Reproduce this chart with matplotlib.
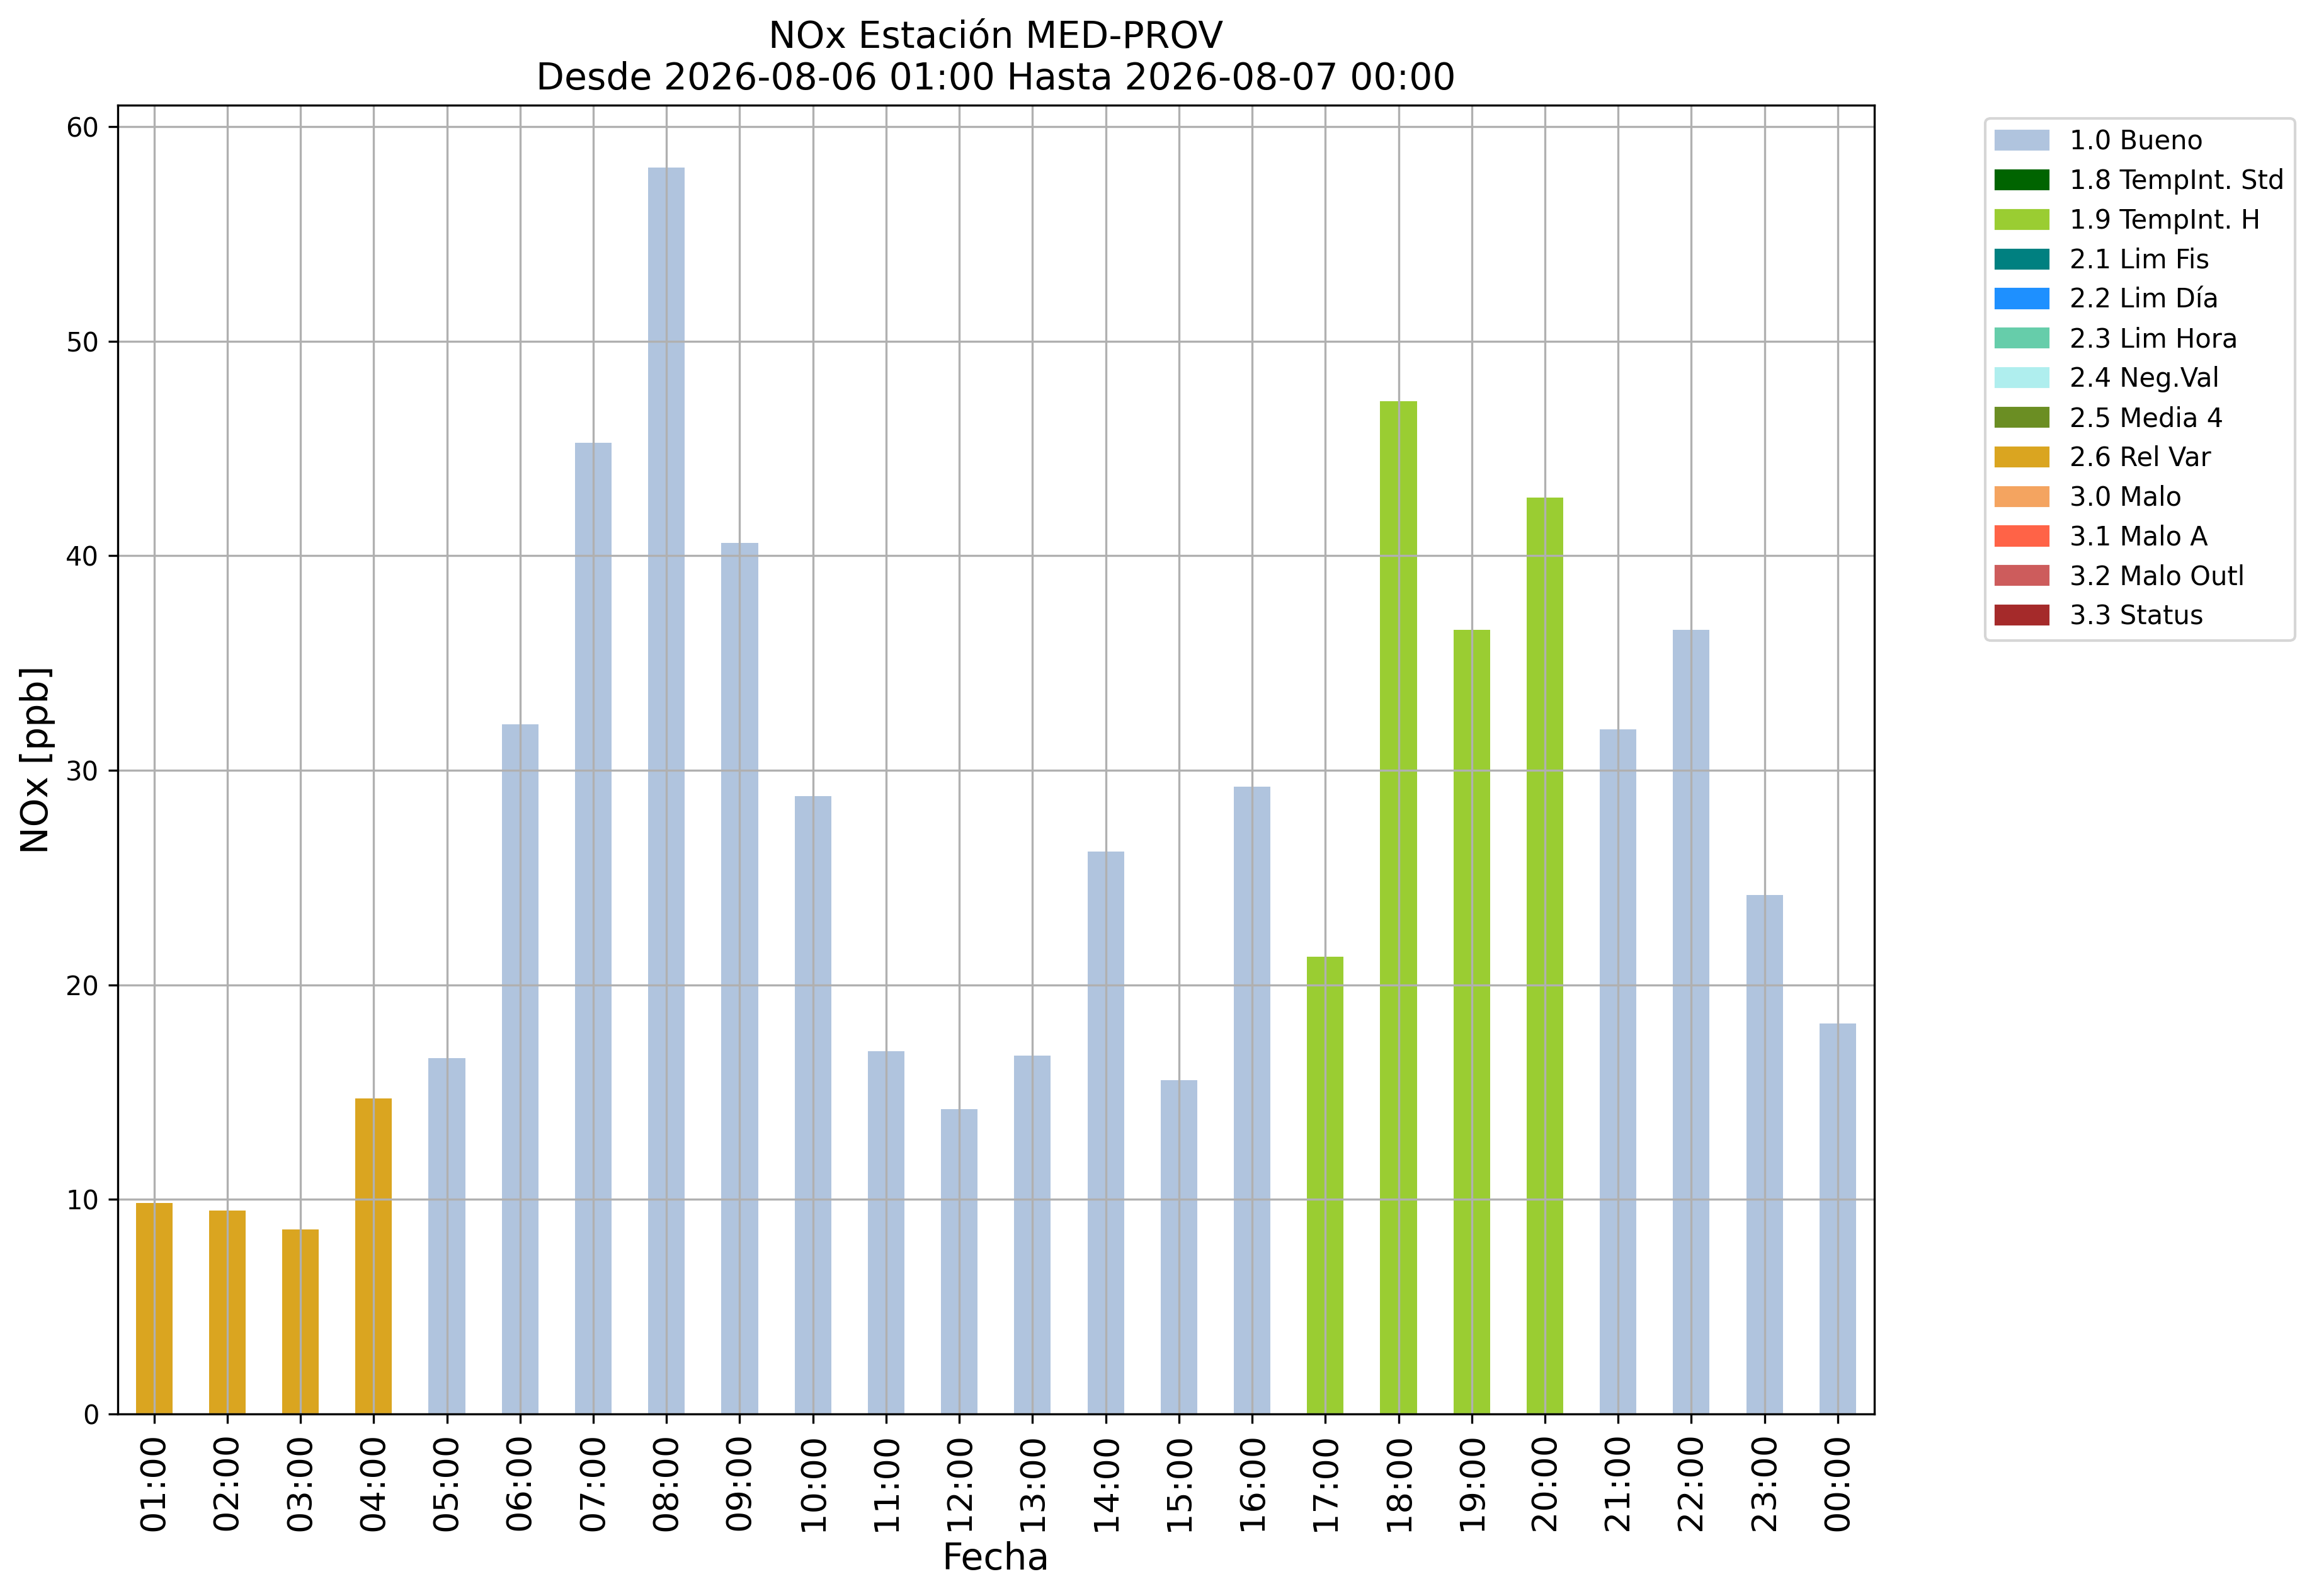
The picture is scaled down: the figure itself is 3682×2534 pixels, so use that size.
import matplotlib
matplotlib.use('Agg')
from matplotlib import pyplot as plt  # noqa
from matplotlib.patches import Patch  # noqa

horas = ['01:00', '02:00', '03:00', '04:00', '05:00', '06:00', '07:00', '08:00',
         '09:00', '10:00', '11:00', '12:00', '13:00', '14:00', '15:00', '16:00',
         '17:00', '18:00', '19:00', '20:00', '21:00', '22:00', '23:00', '00:00']
nox = [9.82, 9.47, 8.59, 14.71, 16.57, 32.15, 45.25, 58.1,
       40.6, 28.8, 16.9, 14.2, 16.7, 26.2, 15.55, 29.25,
       21.3, 47.2, 36.55, 42.7, 31.9, 36.55, 24.2, 18.2]
flags = ['2.6', '2.6', '2.6', '2.6', '1.0', '1.0', '1.0', '1.0',
         '1.0', '1.0', '1.0', '1.0', '1.0', '1.0', '1.0', '1.0',
         '1.9', '1.9', '1.9', '1.9', '1.0', '1.0', '1.0', '1.0']

flag_codes = ['1.0', '1.8', '1.9', '2.1', '2.2', '2.3', '2.4', '2.5', '2.6',
              '3.0', '3.1', '3.2', '3.3']
flag_names = ['Bueno', 'TempInt. Std', 'TempInt. H', 'Lim Fis', 'Lim Día',
              'Lim Hora', 'Neg.Val', 'Media 4', 'Rel Var', 'Malo', 'Malo A',
              'Malo Outl', 'Status']
flag_colors = ['lightsteelblue', 'darkgreen', 'yellowgreen', 'teal',
               'dodgerblue', 'mediumaquamarine', 'paleturquoise', 'olivedrab',
               'goldenrod', 'sandybrown', 'tomato', 'indianred', 'brown']

color_map = dict(zip(flag_codes, flag_colors))

fig = plt.figure(figsize=(3682 / 300, 2534 / 300), dpi=300)
ax = fig.add_axes([186.5 / 3682, 1 - 2245 / 2534,
                   (2976 - 186.5) / 3682, (2245 - 166.7) / 2534])

x = list(range(len(horas)))
ax.bar(x, nox, width=0.5, color=[color_map[f] for f in flags])
ax.set_xlim(-0.5, len(horas) - 0.5)
ax.set_xticks(x)
ax.set_xticklabels(horas, rotation=90, fontsize=13)
ax.tick_params(axis='y', labelsize=10)
ax.grid(True)

ax.set_title('NOx Estación MED-PROV\nDesde 2026-08-06 01:00 Hasta 2026-08-07 00:00',
             fontsize=14)
ax.set_xlabel('Fecha', fontsize=14)
ax.set_ylabel('NOx [ppb]', fontsize=14)

handles = [Patch(color=c, label='{} {}'.format(k, n))
           for k, n, c in zip(flag_codes, flag_names, flag_colors)]
ax.legend(handles=handles, loc='upper left', bbox_to_anchor=(1.0558, 1),
          fontsize=10)

fig.savefig('out.png', dpi=300)
